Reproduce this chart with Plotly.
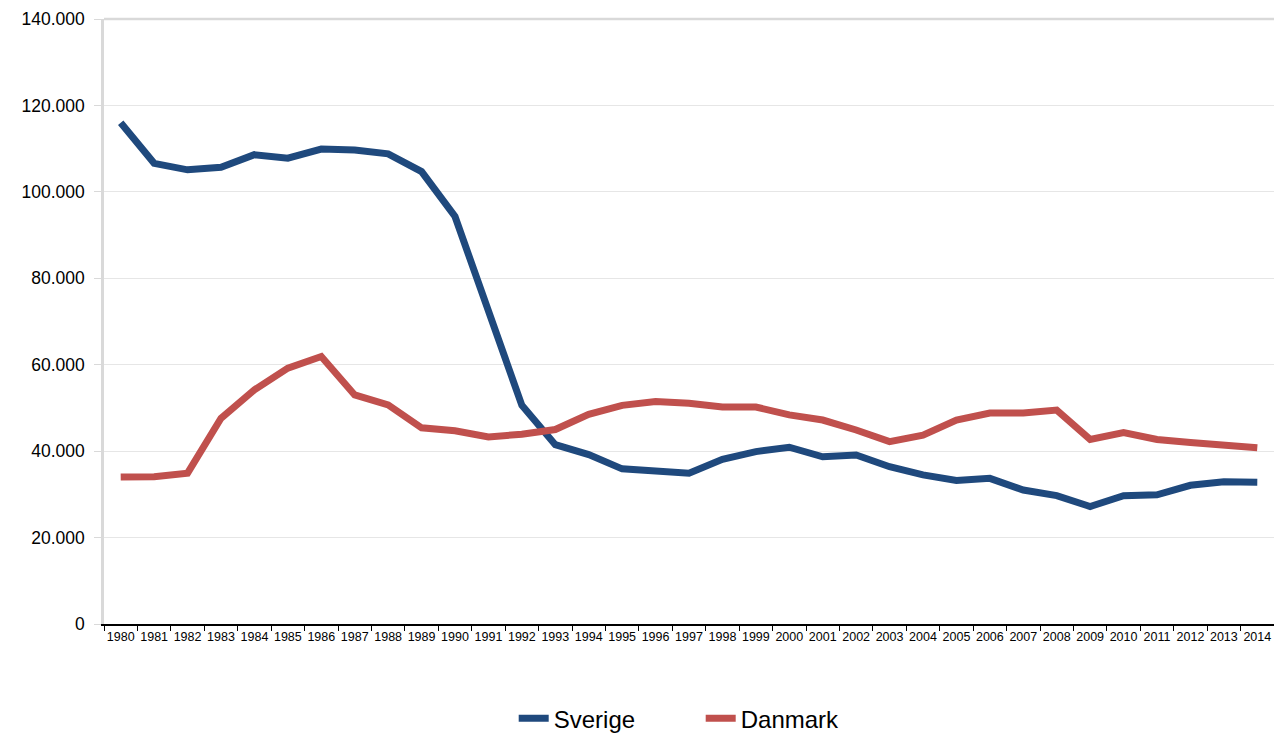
import plotly.graph_objects as go

years = [str(y) for y in range(1980, 2015)]

sverige = [116000, 106600, 105100, 105700, 108600, 107800, 109900, 109700, 108800, 104700,
           94300, 72600, 50600, 41500, 39200, 35900, 35500, 34900, 38100, 39900,
           40900, 38700, 39100, 36400, 34500, 33200, 33700, 31000, 29700, 27200,
           29700, 29900, 32100, 32900, 32800]

danmark = [34000, 34100, 34900, 47600, 54200, 59200, 61900, 53000, 50700, 45400,
           44700, 43300, 43900, 45000, 48500, 50600, 51500, 51100, 50200, 50200,
           48400, 47200, 44900, 42200, 43700, 47200, 48800, 48800, 49500, 42700,
           44300, 42700, 42000, 41400, 40800]

y_ticks = [0, 20000, 40000, 60000, 80000, 100000, 120000, 140000]

fig = go.Figure()
fig.add_trace(go.Scatter(x=years, y=sverige, mode="lines", name="Sverige",
                         line=dict(color="#1F497D", width=7)))
fig.add_trace(go.Scatter(x=years, y=danmark, mode="lines", name="Danmark",
                         line=dict(color="#C0504D", width=7)))

fig.update_layout(
    width=1274, height=736, autosize=False,
    margin=dict(l=104, r=0, t=19, b=112, autoexpand=False),
    paper_bgcolor="white", plot_bgcolor="white",
    separators=",.",
    font=dict(family="Liberation Sans, Arial, sans-serif", color="black"),
    showlegend=True,
    legend=dict(orientation="h", x=0.51, xanchor="center",
                yref="container", y=0.054, yanchor="top",
                font=dict(size=24), entrywidth=142, entrywidthmode="pixels",
                tracegroupgap=0),
    xaxis=dict(type="category", range=[-0.5, 34.5], showgrid=False, automargin=False,
               showline=True, linecolor="black", linewidth=1.5,
               ticks="outside", tickson="boundaries", ticklen=5, tickcolor="black",
               tickfont=dict(size=12.5), tickangle=0),
    yaxis=dict(range=[0, 140000], tickvals=y_ticks, tickformat=",d", automargin=False,
               showgrid=True, gridcolor="#e6e6e6", gridwidth=1,
               showline=True, linecolor="#d9d9d9", linewidth=2.5,
               ticks="outside", ticklen=7, tickcolor="#d9d9d9",
               tickfont=dict(size=17.5), zeroline=False, ticklabelstandoff=6),
)
fig.add_shape(type="line", xref="paper", yref="y domain", x0=0, x1=1, y0=1, y1=1,
              line=dict(color="#d9d9d9", width=2.5))

page_fix = (
    "var gd=document.getElementById('{plot_id}');"
    "document.documentElement.style.margin='0';"
    "document.body.style.margin='0';document.body.style.padding='0';"
    "document.body.style.overflow='hidden';"
    "document.documentElement.style.overflow='hidden';"
    "gd.style.position='fixed';gd.style.left='0px';gd.style.top='0px';"
)

fig.write_html("out.html", post_script=page_fix,
               config={"displayModeBar": False, "responsive": False})
